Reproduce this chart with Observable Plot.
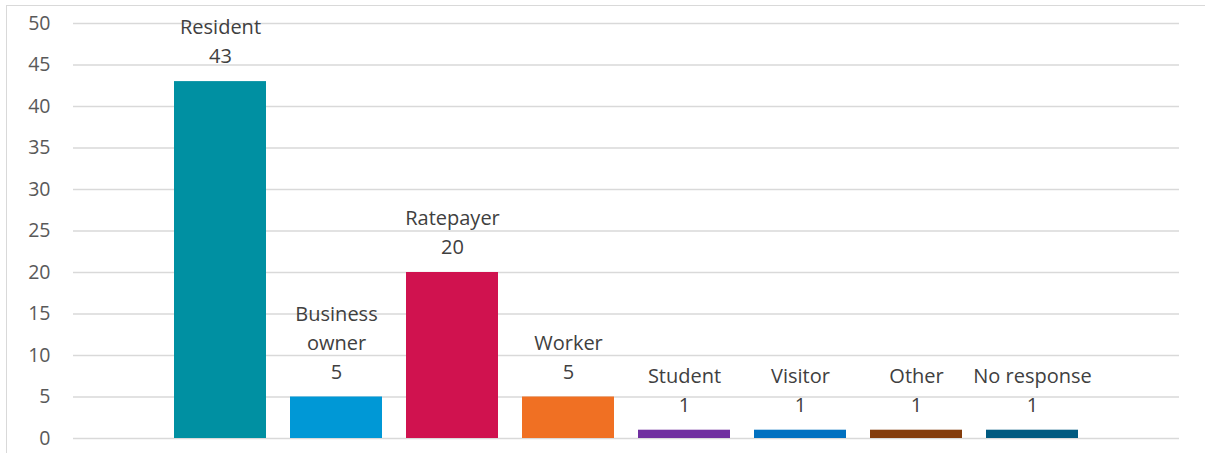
<!DOCTYPE html>
<html>
<head>
<meta charset="utf-8">
<script src="https://cdn.jsdelivr.net/npm/d3@7"></script>
<script src="https://cdn.jsdelivr.net/npm/@observablehq/plot@0.6"></script>
<style>
  html, body { margin: 0; padding: 0; background: #fff; }
  #wrap { position: relative; width: 1205px; height: 453px; overflow: hidden; }
  #frame { position: absolute; left: 6px; top: 5px; width: 1300px; height: 600px;
           border-left: 1.5px solid #d9d9d9; border-top: 1.5px solid #d9d9d9; }
  #chart { position: absolute; left: 0; top: 0; }
</style>
</head>
<body>
<div id="wrap"><div id="frame"></div><div id="chart"></div></div>
<script>
const categories = ["Resident", "Business owner", "Ratepayer", "Worker", "Student", "Visitor", "Other", "No response"];
const labelLines = ["Resident", "Business\nowner", "Ratepayer", "Worker", "Student", "Visitor", "Other", "No response"];
const values = [43, 5, 20, 5, 1, 1, 1, 1];
const colors = ["#0090A2", "#0098D6", "#D0124F", "#F07023", "#7030A0", "#0070C0", "#843C0C", "#005A80"];
const yTicks = [0, 5, 10, 15, 20, 25, 30, 35, 40, 45, 50];

const data = categories.map((c, i) => ({cat: c, label: labelLines[i], value: values[i]}));

const chart = Plot.plot({
  width: 1205,
  height: 453,
  marginLeft: 73,
  marginRight: 26,
  marginTop: 23,
  marginBottom: 15,
  style: {fontFamily: "'Open Sans', sans-serif", background: "transparent"},
  x: {domain: categories, paddingInner: 0.21, paddingOuter: 0.86, axis: null},
  y: {domain: [0, 50]},
  color: {domain: categories, range: colors},
  marks: [
    Plot.gridY(yTicks, {stroke: "#d9d9d9", strokeOpacity: 1, strokeWidth: 1.5}),
    Plot.axisY(yTicks, {tickSize: 0, tickPadding: 23, fontSize: 19.5, fill: "#595959", label: null}),
    Plot.barY(data, {x: "cat", y: "value", fill: "cat"}),
    Plot.text(data, {
      x: "cat", y: "value",
      text: d => d.label + "\n" + d.value,
      lineAnchor: "bottom", lineHeight: 1.45, dy: -18.5,
      fontSize: 20, fill: "#404040"
    })
  ]
});
document.getElementById("chart").appendChild(chart);
</script>
</body>
</html>
